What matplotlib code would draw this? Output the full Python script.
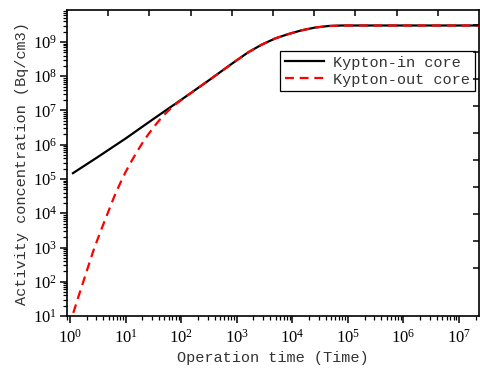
import numpy as np
import matplotlib
matplotlib.use('Agg')
import matplotlib.pyplot as plt
from matplotlib.ticker import LogLocator, NullFormatter

plt.rcParams['mathtext.fontset'] = 'custom'
plt.rcParams['mathtext.rm'] = 'Liberation Serif'
plt.rcParams['mathtext.it'] = 'Liberation Serif:italic'

# values (log10 time, log10 activity)
log_t_in = [0.054, 0.5, 1.0, 1.5, 2.0, 2.5, 2.73, 2.97, 3.21, 3.45, 3.69,
            3.93, 4.17, 4.41, 4.65, 4.89, 5.2, 6.0, 7.37]
log_a_in = [5.17, 5.64, 6.18, 6.75, 7.31, 7.88, 8.15, 8.43, 8.70, 8.92, 9.10,
            9.23, 9.34, 9.42, 9.465, 9.48, 9.48, 9.48, 9.48]
log_t_out = [0.06, 0.15, 0.24, 0.33, 0.42, 0.5, 0.57, 0.65, 0.72, 0.8, 0.9,
             1.0, 1.1, 1.2, 1.3, 1.4, 1.5, 1.6, 1.7, 1.8, 1.9, 2.0, 2.1,
             2.5, 2.73, 2.97, 3.21, 3.45, 3.69, 3.93, 4.17, 4.41, 4.65,
             4.89, 5.2, 6.0, 7.37]
log_a_out = [1.09, 1.55, 2.0, 2.45, 2.9, 3.25, 3.55, 3.88, 4.17, 4.5, 4.86,
             5.2, 5.5, 5.78, 6.04, 6.28, 6.5, 6.7, 6.88, 7.04, 7.18, 7.3, 7.42,
             7.88, 8.15, 8.43, 8.70, 8.92, 9.10, 9.23, 9.34, 9.42, 9.465,
             9.48, 9.48, 9.48, 9.48]
labels = ["Kypton-in core", "Kypton-out core"]

t_in = 10 ** np.array(log_t_in)
a_in = 10 ** np.array(log_a_in)
t_out = 10 ** np.array(log_t_out)
a_out = 10 ** np.array(log_a_out)

fig = plt.figure(figsize=(4.81, 3.74), dpi=100)
pos = [0.139, 0.155, 0.857, 0.818]
ax = fig.add_axes(pos)

ax.plot(t_in, a_in, color='black', lw=1.6, label=labels[0], zorder=2)
ax.plot(t_out, a_out, color='red', lw=1.6, dashes=(4, 2.6),
        label=labels[1], zorder=3)

ax.set_xscale('log')
ax.set_yscale('log')
ax.set_xlim(0.88, 2.3e7)
ax.set_ylim(10, 8.5e9)

ax.xaxis.set_major_locator(LogLocator(base=10, numticks=20))
ax.yaxis.set_major_locator(LogLocator(base=10, numticks=20))
ax.xaxis.set_minor_locator(LogLocator(base=10, subs=np.arange(2, 10), numticks=20))
ax.yaxis.set_minor_locator(LogLocator(base=10, subs=np.arange(2, 10), numticks=20))
ax.xaxis.set_minor_formatter(NullFormatter())
ax.yaxis.set_minor_formatter(NullFormatter())

ax.tick_params(which='major', direction='out', length=5, width=1.1,
               labelsize=12, top=False, right=False, colors='black')
ax.tick_params(which='minor', direction='out', length=3, width=0.9,
               top=False, right=False)
ax.tick_params(axis='x', pad=4)
ax.tick_params(axis='y', pad=2)
for lab in ax.get_xticklabels() + ax.get_yticklabels():
    lab.set_fontfamily('Liberation Serif')
for sp in ax.spines.values():
    sp.set_linewidth(1.2)

mono = 'Liberation Mono'
ax.set_xlabel("Operation time (Time)", fontsize=11, family=mono,
              color='#333333', labelpad=3)
ax.set_ylabel("Activity concentration (Bq/cm3)", fontsize=11, family=mono,
              color='#333333', labelpad=3)

leg = ax.legend(loc='upper right', bbox_to_anchor=(0.99, 0.866),
                prop={'family': mono, 'size': 11}, frameon=True,
                fancybox=False, edgecolor='black', framealpha=1,
                handlelength=2.6, handletextpad=0.6, borderpad=0.3,
                labelspacing=0.2, borderaxespad=0)
leg.get_frame().set_linewidth(0.9)
for t in leg.get_texts():
    t.set_color('#333333')

# opposite axes: plain inward ticks, evenly spaced like the original
ax2 = fig.add_axes(pos, frameon=False)
ax2.set_xlim(0, 1)
ax2.set_ylim(0, 1)
ax2.patch.set_visible(False)
ax2.set_xticks(np.arange(1, 10) / 10)
ax2.set_yticks(0.157 + 0.0882 * np.arange(10))
ax2.set_xticklabels([])
ax2.set_yticklabels([])
ax2.tick_params(direction='in', length=4, width=1.1,
                top=True, right=True, bottom=False, left=False,
                labeltop=False, labelright=False, labelbottom=False,
                labelleft=False)

fig.savefig('out.png', dpi=100)
